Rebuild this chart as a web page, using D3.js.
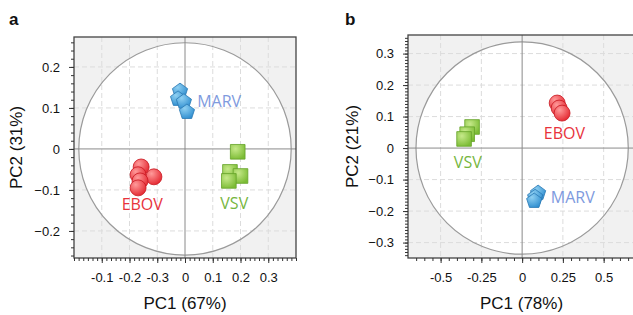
<!DOCTYPE html>
<html>
<head>
<meta charset="utf-8">
<style>
  body { margin: 0; background: #fff; }
  svg { display: block; font-family: "Liberation Sans", Arial, sans-serif; }
  .tick text { font-size: 13px; fill: #111; }
  .tick line { stroke: #333; }
</style>
</head>
<body>
<svg id="chart" width="633" height="315"></svg>
<script src="https://d3js.org/d3.v7.min.js"></script>
<script>
// ---- data ----
var groups = ["EBOV", "MARV", "VSV"];

// panel a : PC1 (67%) / PC2 (31%)
var aEBOV = [[-0.158, -0.044], [-0.169, -0.063], [-0.112, -0.068], [-0.162, -0.078], [-0.169, -0.095]];
var aMARV = [[-0.018, 0.141], [-0.025, 0.122], [-0.004, 0.115], [0.007, 0.090]];
var aVSV  = [[0.190, -0.007], [0.162, -0.056], [0.200, -0.066], [0.158, -0.078]];
var aXTicks = [-0.3, -0.2, -0.1, 0, 0.1, 0.2, 0.3];
var aXTickLabels = ["-0.1", "-0.2", "-0.3", "0", "0.1", "0.2", "0.3"];
var aYTicks = [-0.2, -0.1, 0, 0.1, 0.2];

// panel b : PC1 (78%) / PC2 (21%)
var bEBOV = [[0.215, 0.143], [0.227, 0.127], [0.245, 0.111]];
var bMARV = [[0.098, -0.143], [0.080, -0.156], [0.074, -0.168]];
var bVSV  = [[-0.307, 0.067], [-0.337, 0.044], [-0.356, 0.029]];
var bXTicks = [-0.5, -0.25, 0, 0.25, 0.5];
var bXTickLabels = ["-0.5", "-0.25", "0", "0.25", "0.5"];
var bYTicks = [-0.3, -0.2, -0.1, 0, 0.1, 0.2, 0.3];

var svg = d3.select("#chart");
var defs = svg.append("defs");

var colors = {
  EBOV: {light: "#ff9a9a", dark: "#e4262f", edge: "#c8161f", label: "#e8333c"},
  MARV: {light: "#8fd0f2", dark: "#2f8ed0", edge: "#2a78b4", label: "#7e9ade"},
  VSV:  {light: "#c6e98a", dark: "#7cbc35", edge: "#66a32a", label: "#76b63e"}
};
groups.forEach(function(g) {
  var grad = defs.append("radialGradient").attr("id", "grad" + g)
    .attr("cx", "35%").attr("cy", "30%").attr("r", "75%");
  grad.append("stop").attr("offset", "0%").attr("stop-color", colors[g].light);
  grad.append("stop").attr("offset", "100%").attr("stop-color", colors[g].dark);
});

var pentagon = function(r) {
  var pts = d3.range(5).map(function(i) {
    var a = -Math.PI / 2 + i * 2 * Math.PI / 5;
    return [r * Math.cos(a), r * Math.sin(a)];
  });
  return d3.line()(pts) + "Z";
};
var shapes = {
  EBOV: d3.symbol().type(d3.symbolCircle).size(200)(),
  VSV: d3.symbol().type(d3.symbolSquare).size(215)(),
  MARV: pentagon(8)
};

function panel(o) {
  var x = d3.scaleLinear().domain(o.xDomain).range([o.left, o.right]);
  var y = d3.scaleLinear().domain(o.yDomain).range([o.bottom, o.top]);
  var g = svg.append("g");
  var clipId = "clip" + o.letter;
  defs.append("clipPath").attr("id", clipId).append("rect")
    .attr("x", o.left).attr("y", o.top)
    .attr("width", o.right - o.left).attr("height", o.bottom - o.top);

  var plot = g.append("g").attr("clip-path", "url(#" + clipId + ")");
  plot.append("rect")
    .attr("x", o.left).attr("y", o.top)
    .attr("width", o.right - o.left).attr("height", o.bottom - o.top)
    .attr("fill", "#f1f1f1");
  var r = y(0) - y(o.circleR);
  plot.append("circle").attr("cx", x(0)).attr("cy", y(0)).attr("r", r)
    .attr("fill", "#fff");

  // dashed grid
  plot.selectAll(".gx").data(o.xTicks.filter(function(d) { return d != 0; }))
    .enter().append("line")
    .attr("x1", function(d) { return x(d); }).attr("x2", function(d) { return x(d); })
    .attr("y1", o.top).attr("y2", o.bottom)
    .attr("stroke", "#dcdcdc").attr("stroke-dasharray", "5,3");
  plot.selectAll(".gy").data(o.yTicks.filter(function(d) { return d != 0; }))
    .enter().append("line")
    .attr("y1", function(d) { return y(d); }).attr("y2", function(d) { return y(d); })
    .attr("x1", o.left).attr("x2", o.right)
    .attr("stroke", "#dcdcdc").attr("stroke-dasharray", "5,3");

  plot.append("circle").attr("cx", x(0)).attr("cy", y(0)).attr("r", r)
    .attr("fill", "none").attr("stroke", "#9a9a9a").attr("stroke-width", 1.2);
  plot.append("line").attr("x1", x(0)).attr("x2", x(0)).attr("y1", o.top).attr("y2", o.bottom)
    .attr("stroke", "#8a8a8a");
  plot.append("line").attr("y1", y(0)).attr("y2", y(0)).attr("x1", o.left).attr("x2", o.right)
    .attr("stroke", "#8a8a8a");

  // points
  o.series.forEach(function(s) {
    plot.selectAll(".p" + s.name).data(s.values).enter().append("path")
      .attr("d", shapes[s.name])
      .attr("transform", function(d) { return "translate(" + x(d[0]) + "," + y(d[1]) + ")"; })
      .attr("fill", "url(#grad" + s.name + ")")
      .attr("stroke", colors[s.name].edge).attr("stroke-width", 0.8);
    var mx = x(d3.mean(s.values, function(d) { return d[0]; }));
    var my = y(d3.mean(s.values, function(d) { return d[1]; }));
    var t = plot.append("text")
      .attr("font-family", "'Open Sans', 'Noto Sans', sans-serif")
      .attr("font-size", 16)
      .attr("fill", colors[s.name].label)
      .attr("dominant-baseline", "central")
      .text(s.name);
    if (s.side == "right") {
      t.attr("x", mx + s.off).attr("y", my).attr("text-anchor", "start");
    } else {
      t.attr("x", mx + (s.dx || 0)).attr("y", my + s.off).attr("text-anchor", "middle");
    }
  });

  // frame
  g.append("rect")
    .attr("x", o.left).attr("y", o.top)
    .attr("width", o.right - o.left).attr("height", o.bottom - o.top)
    .attr("fill", "none").attr("stroke", "#444").attr("stroke-width", 1.3);

  // minor ticks
  var xMinor = d3.range(Math.ceil(o.xDomain[0] / o.xMinor), Math.floor(o.xDomain[1] / o.xMinor) + 1)
    .map(function(i) { return i * o.xMinor; });
  var yMinor = d3.range(Math.ceil(o.yDomain[0] / o.yMinor), Math.floor(o.yDomain[1] / o.yMinor) + 1)
    .map(function(i) { return i * o.yMinor; });
  var xm = g.append("g").attr("transform", "translate(0," + o.bottom + ")")
    .call(d3.axisBottom(x).tickValues(xMinor).tickSize(3).tickSizeOuter(0).tickFormat(""));
  var ym = g.append("g").attr("transform", "translate(" + o.left + ",0)")
    .call(d3.axisLeft(y).tickValues(yMinor).tickSize(3).tickSizeOuter(0).tickFormat(""));
  xm.select(".domain").remove(); ym.select(".domain").remove();

  var xa = g.append("g").attr("transform", "translate(0," + o.bottom + ")")
    .call(d3.axisBottom(x).tickValues(o.xTicks).tickSize(5).tickPadding(10).tickSizeOuter(0)
      .tickFormat(function(d, i) { return o.xTickLabels[i]; }));
  var ya = g.append("g").attr("transform", "translate(" + o.left + ",0)")
    .call(d3.axisLeft(y).tickValues(o.yTicks).tickSize(5).tickPadding(9).tickSizeOuter(0)
      .tickFormat(function(d) { return d == 0 ? "0" : d3.format(".1f")(d); }));
  xa.select(".domain").remove(); ya.select(".domain").remove();
  g.selectAll(".tick text").attr("font-family", "'Liberation Sans', Arial, sans-serif");

  // titles
  g.append("text").attr("x", (o.left + Math.min(o.right, 633)) / 2 + o.xTitleShift).attr("y", 309)
    .attr("text-anchor", "middle").attr("font-size", 17).attr("fill", "#111").text(o.xTitle);
  g.append("text")
    .attr("transform", "translate(" + o.yTitleX + "," + ((o.top + o.bottom) / 2) + ") rotate(-90)")
    .attr("text-anchor", "middle").attr("font-size", 17).attr("fill", "#111").text(o.yTitle);
  g.append("text").attr("x", o.letterX).attr("y", 25)
    .attr("font-size", 17).attr("font-weight", "bold").attr("fill", "#111").text(o.letter);
}

panel({
  letter: "a", letterX: 9,
  left: 74, right: 296, top: 37, bottom: 258,
  xDomain: [-0.4, 0.4], yDomain: [-0.266, 0.273],
  xTicks: aXTicks, xTickLabels: aXTickLabels, yTicks: aYTicks,
  xMinor: 0.1 / 6, yMinor: 0.02,
  circleR: 0.259,
  xTitle: "PC1 (67%)", yTitle: "PC2 (31%)", yTitleX: 22, xTitleShift: 0,
  series: [
    {name: "EBOV", values: aEBOV, side: "below", off: 27},
    {name: "MARV", values: aMARV, side: "right", off: 15},
    {name: "VSV", values: aVSV, side: "below", off: 33}
  ]
});

panel({
  letter: "b", letterX: 345,
  left: 408, right: 640, top: 35, bottom: 258,
  xDomain: [-0.70, 0.723], yDomain: [-0.349, 0.359],
  xTicks: bXTicks, xTickLabels: bXTickLabels, yTicks: bYTicks,
  xMinor: 0.05, yMinor: 0.01,
  circleR: 0.337,
  xTitle: "PC1 (78%)", yTitle: "PC2 (21%)", yTitleX: 358, xTitleShift: 1,
  series: [
    {name: "EBOV", values: bEBOV, side: "below", off: 25, dx: 5},
    {name: "MARV", values: bMARV, side: "right", off: 15},
    {name: "VSV", values: bVSV, side: "below", off: 29}
  ]
});
</script>
</body>
</html>
